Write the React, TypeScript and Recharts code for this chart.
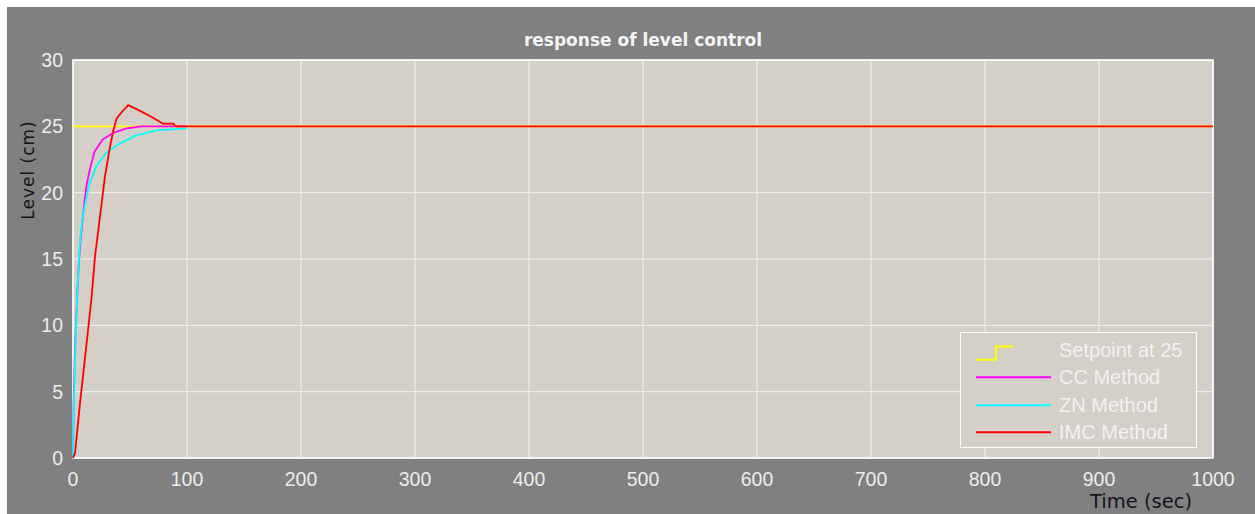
import { CartesianGrid, Legend, Line, LineChart, ReferenceArea, XAxis, YAxis } from 'recharts';

document.body.style.margin = '0';
document.body.style.overflow = 'hidden';

const timeTicks = [0, 100, 200, 300, 400, 500, 600, 700, 800, 900, 1000];
const levelTicks = [0, 5, 10, 15, 20, 25, 30];
const seriesNames = ['Setpoint at 25', 'CC Method', 'ZN Method', 'IMC Method'];

const setpointTime = [0, 1000];
const setpointLevel = [25, 25];

const ccTime = [0, 0.5, 1.5, 2.6, 3.8, 5, 6.5, 8.2, 10, 12, 14.6, 18.9, 26, 35, 47, 60, 100];
const ccLevel = [0, 4, 7.5, 10, 12.5, 14.5, 16.3, 17.8, 19.3, 20.6, 21.7, 23.1, 24.0, 24.5, 24.85, 25, 25];

const znTime = [0, 0.5, 1.5, 2.6, 4, 5.8, 8, 10, 14.6, 20.5, 29, 41, 55, 73, 100];
const znLevel = [0, 3, 6.5, 9.7, 13, 15.9, 17.8, 18.9, 20.7, 22.0, 23.0, 23.7, 24.3, 24.7, 24.85];

const imcTime = [0, 1.8, 6.1, 12, 16.4, 19.3, 23.7, 28, 32.5, 35.4, 38.3, 43, 48.5, 58, 69, 79, 88, 90, 1000];
const imcLevel = [0, 0.4, 4.1, 8.7, 12.2, 15.2, 18.2, 21.2, 23.5, 24.7, 25.6, 26.1, 26.6, 26.2, 25.7, 25.2, 25.2, 25, 25];

const toPoints = (t: number[], v: number[]) => t.map((time, i) => ({ time, level: v[i] }));

const setpointData = toPoints(setpointTime, setpointLevel);
const ccData = toPoints(ccTime, ccLevel);
const znData = toPoints(znTime, znLevel);
const imcData = toPoints(imcTime, imcLevel);

const plotBg = '#d4d0c8';
const tickFont = { fill: '#ececec', fontSize: 19.5, fontFamily: 'Liberation Sans' };

function LegendBox({ payload }: any) {
  const items = [...(payload || [])].sort(
    (a: any, b: any) => seriesNames.indexOf(a.value) - seriesNames.indexOf(b.value)
  );
  return (
    <div
      style={{
        width: 237,
        height: 116,
        boxSizing: 'border-box',
        border: '1.5px solid #fff',
        background: plotBg,
        paddingTop: 3,
      }}
    >
      {items.map((entry: any, i: number) => (
        <div key={i} style={{ position: 'relative', height: 27.4 }}>
          <svg width={95} height={27.4} style={{ position: 'absolute', left: 0, top: 0 }}>
            {entry.value === seriesNames[0] ? (
              <polyline
                points="15,23.7 35,23.7 35,10.4 52,10.4"
                fill="none"
                stroke={entry.color}
                strokeWidth={2}
              />
            ) : (
              <line x1={15} x2={90} y1={14.3} y2={14.3} stroke={entry.color} strokeWidth={2} />
            )}
          </svg>
          <span
            style={{
              position: 'absolute',
              left: 98,
              top: 2,
              lineHeight: '24px',
              fontSize: 20,
              fontFamily: 'Liberation Sans',
              color: '#f2f2f2',
              whiteSpace: 'nowrap',
            }}
          >
            {entry.value}
          </span>
        </div>
      ))}
    </div>
  );
}

export default function App() {
  return (
    <div
      style={{
        position: 'relative',
        width: 1248,
        height: 507,
        margin: '7px 0 0 7px',
        background: '#808080',
        overflow: 'hidden',
      }}
    >
      <LineChart width={1248} height={507} margin={{ top: 53, right: 42, bottom: 0, left: 0 }}>
        <CartesianGrid fill={plotBg} fillOpacity={1} stroke="#f4f4f4" strokeWidth={1} />
        <XAxis
          dataKey="time"
          type="number"
          domain={[0, 1000]}
          ticks={timeTicks}
          height={56}
          axisLine={false}
          tickLine={false}
          tickMargin={8}
          tick={tickFont}
        />
        <YAxis
          type="number"
          domain={[0, 30]}
          ticks={levelTicks}
          width={66}
          axisLine={false}
          tickLine={false}
          tickMargin={4}
          tick={tickFont}
        />
        <ReferenceArea x1={0} x2={1000} y1={0} y2={30} fill="none" stroke="#ffffff" strokeWidth={1.5} />
        <Line data={setpointData} dataKey="level" name={seriesNames[0]} type="linear" stroke="#ffff00" strokeWidth={1.6} dot={false} isAnimationActive={false} />
        <Line data={ccData} dataKey="level" name={seriesNames[1]} type="linear" stroke="#ff00ff" strokeWidth={1.8} dot={false} isAnimationActive={false} />
        <Line data={znData} dataKey="level" name={seriesNames[2]} type="linear" stroke="#00ffff" strokeWidth={1.8} dot={false} isAnimationActive={false} />
        <Line data={imcData} dataKey="level" name={seriesNames[3]} type="linear" stroke="#ff0000" strokeWidth={1.8} dot={false} isAnimationActive={false} />
        <Legend
          layout="vertical"
          align="center"
          verticalAlign="middle"
          content={<LegendBox />}
          wrapperStyle={{ left: 953, top: 325, width: 237, height: 116 }}
        />
      </LineChart>
      <div
        style={{
          position: 'absolute',
          left: 66,
          top: 23,
          width: 1140,
          textAlign: 'center',
          fontFamily: 'DejaVu Sans',
          fontWeight: 'bold',
          fontSize: 17,
          lineHeight: '20px',
          color: '#f4f4f4',
        }}
      >
        response of level control
      </div>
      <div
        style={{
          position: 'absolute',
          left: 21,
          top: 163,
          transform: 'translate(-50%, -50%) rotate(-90deg)',
          fontFamily: 'DejaVu Sans',
          fontSize: 17,
          letterSpacing: 1,
          lineHeight: 1,
          color: '#15151f',
          whiteSpace: 'nowrap',
        }}
      >
        Level (cm)
      </div>
      <div
        style={{
          position: 'absolute',
          left: 1134,
          top: 485,
          transform: 'translateX(-50%)',
          fontFamily: 'DejaVu Sans',
          fontSize: 19.5,
          lineHeight: 1,
          color: '#15151f',
          whiteSpace: 'nowrap',
        }}
      >
        Time (sec)
      </div>
    </div>
  );
}
